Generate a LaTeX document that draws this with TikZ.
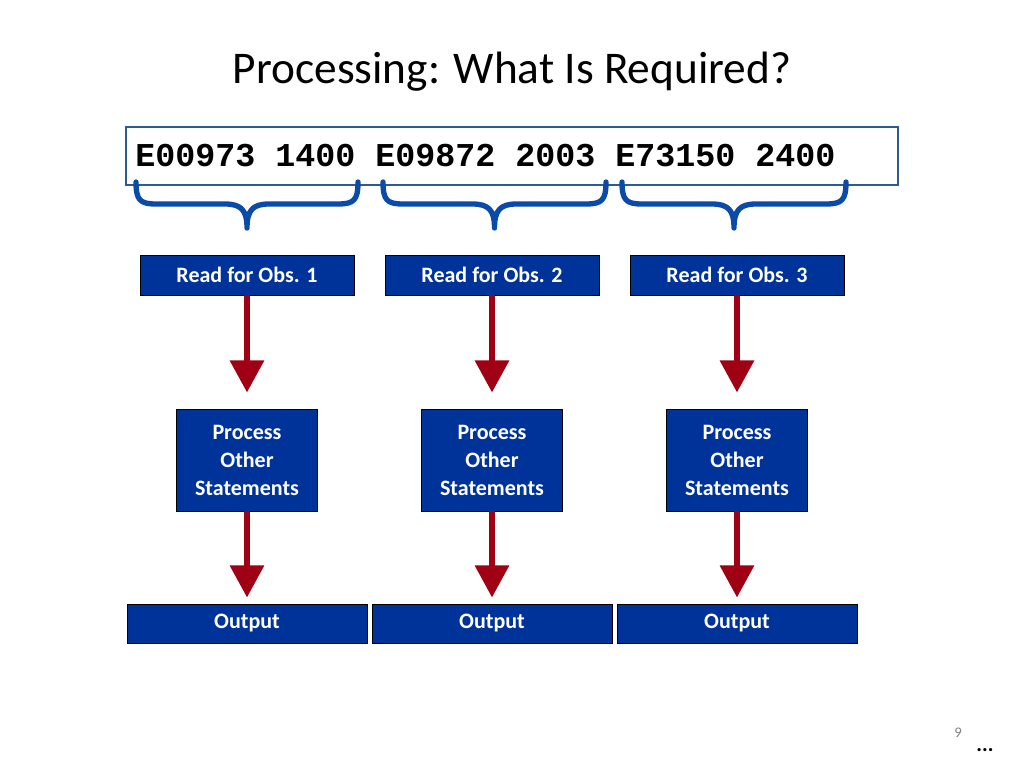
\documentclass[tikz,border=0pt]{standalone}
\usepackage{fontspec}
\setmainfont{Carlito}
\newfontfamily\monof{Liberation Mono}
\usetikzlibrary{arrows.meta}
\definecolor{boxblue}{HTML}{003399}
\definecolor{framec}{HTML}{2F5C8F}
\definecolor{bracec}{HTML}{0A4AA8}
\definecolor{arrred}{HTML}{A00014}
\begin{document}
\begin{tikzpicture}[x=0.75pt,y=-0.75pt,
  box/.style={draw=black,line width=0.6pt,fill=boxblue,text=white,font=\bfseries\fontsize{16.5}{19}\selectfont,inner sep=0pt,align=center},
  arr/.style={draw=arrred,line width=4pt,-{Triangle[length=24pt,width=25pt]}},
  br/.style={draw=bracec,line width=4pt,line cap=round,line join=round}]
\useasboundingbox (0,0) rectangle (1024,768);
\node (title) at (512,72) {\fontsize{34}{40}\selectfont Processing: What Is Required?};
\node[draw=framec,line width=2.2pt,minimum width=772*0.75pt,minimum height=58*0.75pt,inner sep=0pt] (frame) at (512,156) {};
\node[anchor=west,inner sep=0pt] (data) at (135,156) {\monof\bfseries\fontsize{25}{30}\selectfont E00973 1400 E09872 2003 E73150 2400};
\foreach \a/\b/\i in {136/358/1,383/606/2,622/846/3}{
  \pgfmathsetmacro{\m}{(\a+\b)/2}
  \draw[br] (\a,182) .. controls (\a,200) and (\a+4,204) .. (\a+20,204) -- (\m-22,204) .. controls (\m-6,204) and (\m,210) .. (\m,228)
     (\b,182) .. controls (\b,200) and (\b-4,204) .. (\b-20,204) -- (\m+22,204) .. controls (\m+6,204) and (\m,210) .. (\m,228);
}
\foreach \x/\i in {247/1,492/2,737/3}{
  \node[box,minimum width=214*0.75pt,minimum height=40*0.75pt] (r\i) at (\x,275) {Read for Obs. \i};
  \node[box,minimum width=141*0.75pt,minimum height=102*0.75pt] (p\i) at (\x,460) {Process\\[2pt]Other\\[2pt]Statements};
  \node[box,minimum width=240*0.75pt,minimum height=39*0.75pt] (o\i) at (\x,623.5) {Output};
  \draw[arr] (r\i.south) -- ++(0,97);
  \draw[arr] (p\i.south) -- ++(0,86);
}
\node[text=gray] (pg) at (958,733) {\fontsize{11}{13}\selectfont 9};
\node (dots) at (985,750) {\bfseries\fontsize{16}{18}\selectfont ...};
\end{tikzpicture}
\end{document}
